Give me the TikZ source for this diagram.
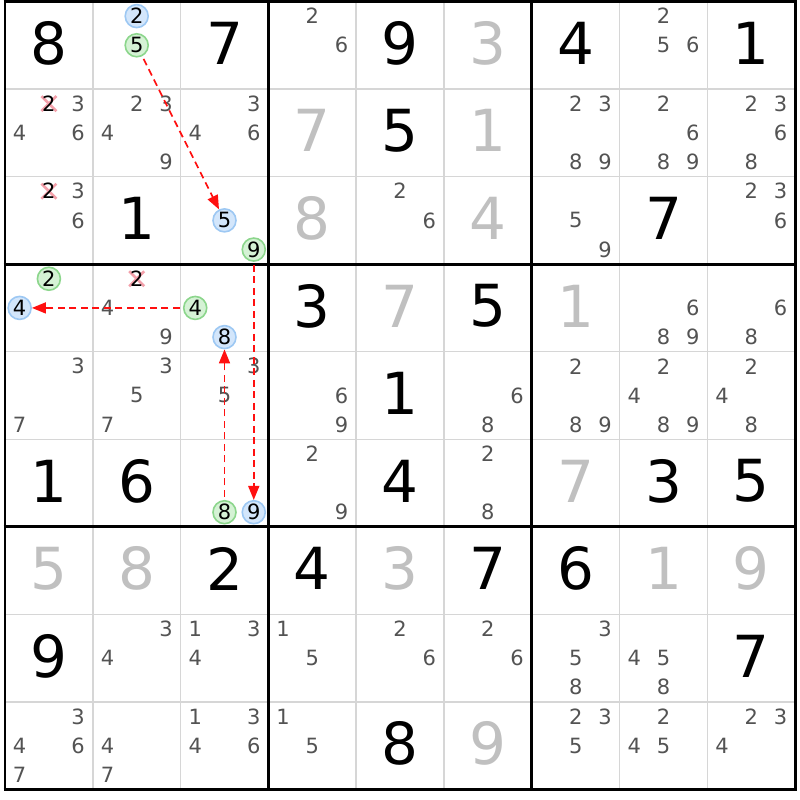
\documentclass[tikz,border=0pt]{standalone}
\usepackage{fontspec}
\setmainfont{DejaVu Sans}
\usetikzlibrary{arrows.meta}
\definecolor{candgray}{HTML}{535353}
\definecolor{solvedgray}{HTML}{C0C0C0}
\definecolor{gridgray}{HTML}{D6D6D6}
\definecolor{bluefill}{HTML}{D3E6FB}
\definecolor{bluestroke}{HTML}{9DC8F3}
\definecolor{greenfill}{HTML}{D5F2D5}
\definecolor{greenstroke}{HTML}{8CD68C}
\definecolor{xpink}{HTML}{F3A0AA}
\definecolor{arrred}{HTML}{FF1010}
\tikzset{
  given/.style={font=\fontsize{58}{58}\selectfont, text=black, inner sep=0pt, yshift=2pt},
  solved/.style={given, text=solvedgray},
  cand/.style={font=\fontsize{21}{21}\selectfont, text=candgray, inner sep=0pt},
  bluec/.style={cand, circle, text=black, draw=bluestroke, fill=bluefill, line width=1.6pt, minimum size=23pt},
  greenc/.style={cand, circle, text=black, draw=greenstroke, fill=greenfill, line width=1.6pt, minimum size=23pt},
  xmark/.style={draw=xpink, line width=2.6pt},
  thingrid/.style={draw=gridgray, line width=1.5pt},
  thickgrid/.style={draw=black, line width=2.7pt},
  arr/.style={draw=arrred, dash pattern=on 7pt off 4.5pt, line width=1.7pt, -{Triangle[length=14pt,width=11pt]}, shorten <=3pt},
}
\newcommand\Gv[3]{\node[given] (g#1#2) at ({5+87.8*(#2-0.5)},{1.5+87.55*(#1-0.5)}) {#3};}
\newcommand\Sv[3]{\node[solved] (g#1#2) at ({5+87.8*(#2-0.5)},{1.5+87.55*(#1-0.5)}) {#3};}
\newcommand\cpos[3]{({5+87.8*(#2-1)+87.8*(2*mod(#3-1,3)+1)/6},{1.5+87.55*(#1-1)+87.55*(2*int((#3-1)/3)+1)/6})}
\newcommand\Cd[3]{\foreach \d in {#3}{\node[cand] (c#1#2\d) at \cpos{#1}{#2}{\d} {\d};}}
\newcommand\Cc[4]{\node[#1] (c#2#3#4) at \cpos{#2}{#3}{#4} {#4};}
\newcommand\Cx[3]{\path \cpos{#1}{#2}{#3} coordinate (x#1#2#3);
  \draw[xmark] ([shift={(-7.5,-7.5)}]x#1#2#3) -- ([shift={(7.5,7.5)}]x#1#2#3);
  \draw[xmark] ([shift={(-7.5,7.5)}]x#1#2#3) -- ([shift={(7.5,-7.5)}]x#1#2#3);
  \node[cand, text=black] (c#1#2#3) at (x#1#2#3) {#3};}
\begin{document}
\begin{tikzpicture}[x=1pt,y=-1pt]
\fill[white] (0,0) rectangle (800,800);
\useasboundingbox (0,0) rectangle (800,800);
% grid
\foreach \i in {1,...,8} {
  \draw[thingrid] ({5+87.8*\i},1.5) -- ({5+87.8*\i},789.5);
  \draw[thingrid] (5,{1.5+87.55*\i}) -- (795,{1.5+87.55*\i});
}
\foreach \i in {0,3,6,9} {
  \draw[thickgrid] ({5+87.8*\i},0.2) -- ({5+87.8*\i},790.8);
  \draw[thickgrid] (3.7,{1.5+87.55*\i}) -- (796.3,{1.5+87.55*\i});
}
% row 1
\Gv{1}{1}{8} \Cc{bluec}{1}{2}{2} \Cc{greenc}{1}{2}{5} \Gv{1}{3}{7}
\Cd{1}{4}{2,6} \Gv{1}{5}{9} \Sv{1}{6}{3} \Gv{1}{7}{4} \Cd{1}{8}{2,5,6} \Gv{1}{9}{1}
% row 2
\Cx{2}{1}{2} \Cd{2}{1}{3,4,6} \Cd{2}{2}{2,3,4,9} \Cd{2}{3}{3,4,6} \Sv{2}{4}{7}
\Gv{2}{5}{5} \Sv{2}{6}{1} \Cd{2}{7}{2,3,8,9} \Cd{2}{8}{2,6,8,9} \Cd{2}{9}{2,3,6,8}
% row 3
\Cx{3}{1}{2} \Cd{3}{1}{3,6} \Gv{3}{2}{1} \Cc{bluec}{3}{3}{5} \Cc{greenc}{3}{3}{9}
\Sv{3}{4}{8} \Cd{3}{5}{2,6} \Sv{3}{6}{4} \Cd{3}{7}{5,9} \Gv{3}{8}{7} \Cd{3}{9}{2,3,6}
% row 4
\Cc{greenc}{4}{1}{2} \Cc{bluec}{4}{1}{4} \Cx{4}{2}{2} \Cd{4}{2}{4,9}
\Cc{greenc}{4}{3}{4} \Cc{bluec}{4}{3}{8} \Gv{4}{4}{3} \Sv{4}{5}{7} \Gv{4}{6}{5}
\Sv{4}{7}{1} \Cd{4}{8}{6,8,9} \Cd{4}{9}{6,8}
% row 5
\Cd{5}{1}{3,7} \Cd{5}{2}{3,5,7} \Cd{5}{3}{3,5} \Cd{5}{4}{6,9} \Gv{5}{5}{1}
\Cd{5}{6}{6,8} \Cd{5}{7}{2,8,9} \Cd{5}{8}{2,4,8,9} \Cd{5}{9}{2,4,8}
% row 6
\Gv{6}{1}{1} \Gv{6}{2}{6} \Cc{greenc}{6}{3}{8} \Cc{bluec}{6}{3}{9} \Cd{6}{4}{2,9}
\Gv{6}{5}{4} \Cd{6}{6}{2,8} \Sv{6}{7}{7} \Gv{6}{8}{3} \Gv{6}{9}{5}
% row 7
\Sv{7}{1}{5} \Sv{7}{2}{8} \Gv{7}{3}{2} \Gv{7}{4}{4} \Sv{7}{5}{3} \Gv{7}{6}{7}
\Gv{7}{7}{6} \Sv{7}{8}{1} \Sv{7}{9}{9}
% row 8
\Gv{8}{1}{9} \Cd{8}{2}{3,4} \Cd{8}{3}{1,3,4} \Cd{8}{4}{1,5} \Cd{8}{5}{2,6}
\Cd{8}{6}{2,6} \Cd{8}{7}{3,5,8} \Cd{8}{8}{4,5,8} \Gv{8}{9}{7}
% row 9
\Cd{9}{1}{3,4,6,7} \Cd{9}{2}{4,7} \Cd{9}{3}{1,3,4,6} \Cd{9}{4}{1,5} \Gv{9}{5}{8}
\Sv{9}{6}{9} \Cd{9}{7}{2,3,5} \Cd{9}{8}{2,4,5} \Cd{9}{9}{2,3,4}
% arrows
\draw[arr] (c125) -- (c335);
\draw[arr] (c339) -- (c639);
\draw[arr] (c434) -- (c414);
\draw[arr] (c638) -- (c438);
\end{tikzpicture}
\end{document}
